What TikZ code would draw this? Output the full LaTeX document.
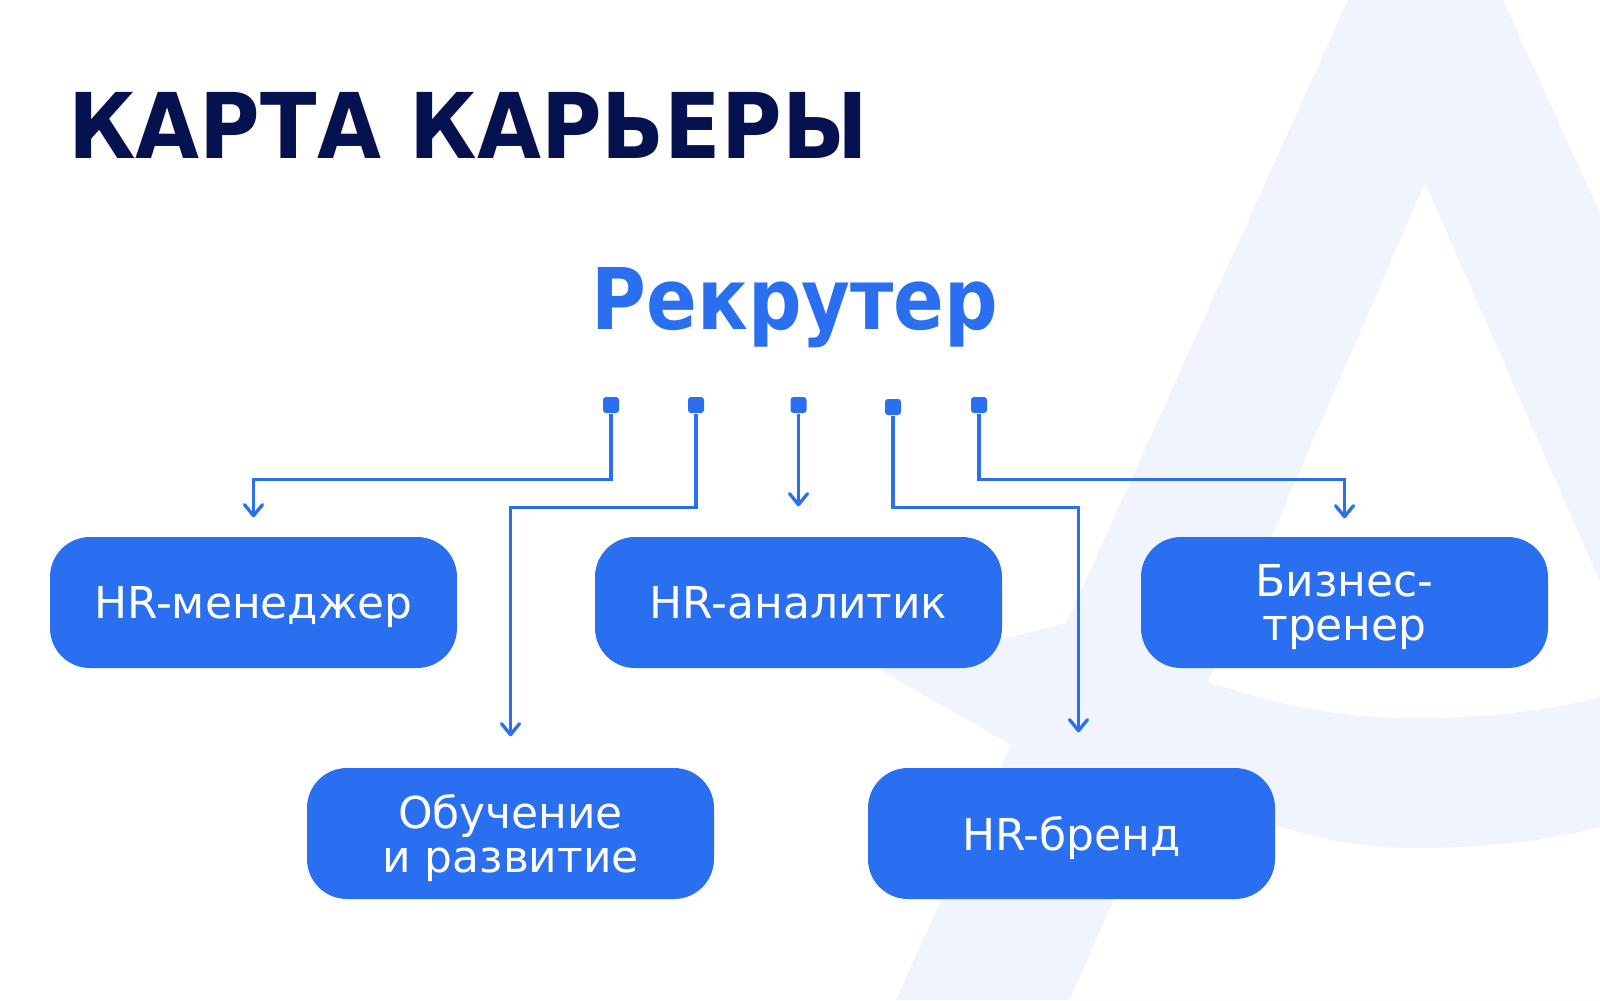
\documentclass[tikz,border=0pt]{standalone}
\usepackage{fontspec}
\setmainfont{DejaVu Sans}
\newfontfamily\headfont{DejaVu Sans}[FakeStretch=0.912]
\newfontfamily\rolefont{DejaVu Sans}[FakeStretch=0.88]
\usetikzlibrary{
	arrows.meta,
	calc,
	positioning
}
\definecolor{accent}{HTML}{2A6FF0}
\definecolor{navy}{HTML}{06124F}
\definecolor{softaccent}{HTML}{EFF4FD}

\begin{document}
\begin{tikzpicture}[
	x=0.1mm, y=-0.1mm,
	block/.style={
		fill=accent, rounded corners=4mm,
		minimum width=40.7mm, minimum height=13.1mm, align=center,
		text depth=0pt, text=white, font=\fontsize{12.5}{12.3}\selectfont
	},
	stub/.style={fill=accent, rounded corners=0.3mm, minimum size=1.6mm, inner sep=0pt},
	link/.style={-{Straight Barb[length=1.1mm, width=1.8mm, round]}, line width=0.33mm, accent},
	title/.style={text=navy, font=\headfont\bfseries\fontsize{25.8}{30}\selectfont},
	role/.style={text=accent, font=\rolefont\bfseries\fontsize{24.2}{28}\selectfont}
	]
	
	% Page and the faint letter behind everything
	\useasboundingbox (0,0) rectangle (1600,1000);
	\begin{scope}
		\clip (0,0) rectangle (1600,1000);
		\fill[white] (0,0) rectangle (1600,1000);
		\fill[softaccent] (1348,0) -- (1503,0) -- (1958,1000) -- (896,1000) -- cycle;
		\fill[white] (1425,183) -- (1783,1000) -- (1070,1000) -- cycle;
		\fill[softaccent] (880,670) -- (1067,623) -- (1208,682)
			.. controls (1290,708) and (1340,718) .. (1417,718)
			.. controls (1500,718) and (1560,708) .. (1600,697) -- (1600,827)
			.. controls (1550,840) and (1490,848) .. (1417,848)
			.. controls (1350,848) and (1300,835) .. (1250,815) -- (1012,745) -- cycle;
	\end{scope}
	
	% Headings
	\node[title, anchor=base west] (head) at (56,158) {КАРТА КАРЬЕРЫ};
	\node[role, anchor=base] (recr) at (795,329) {Рекрутер};
	
	% Career options
	\node[block] (mgr)   at (253.5,602.5)  {HR-менеджер};
	\node[block] (ana)   at (798.5,602.5)  {HR-аналитик};
	\node[block] (coach) at (1344.5,602.5) {Бизнес-\\тренер};
	\node[block] (edu)   at (510.5,833.5)  {Обучение\\и развитие};
	\node[block] (hrb)   at (1071.5,833.5) {HR-бренд};
	
	% Starting points under the role
	\node[stub] (p1) at (611,405) {};
	\node[stub] (p2) at (696,405) {};
	\node[stub] (p3) at (798.5,405) {};
	\node[stub] (p4) at (893,407) {};
	\node[stub] (p5) at (979,405) {};
	
	% --- Paths ---
	\draw[link] (p1.south) -- ++(0,66) -| ($(mgr.north)+(0,-19)$);
	\draw[link] (p2.south) -- ++(0,94) -| ($(edu.north)+(0,-31)$);
	\draw[link] (p3.south) -- ($(ana.north)+(0,-30)$);
	\draw[link] (p4.south) -- ++(0,92) -| ($(hrb.north)+(7,-35)$);
	\draw[link] (p5.south) -- ++(0,66) -| ($(coach.north)+(0,-18)$);
\end{tikzpicture}
\end{document}
